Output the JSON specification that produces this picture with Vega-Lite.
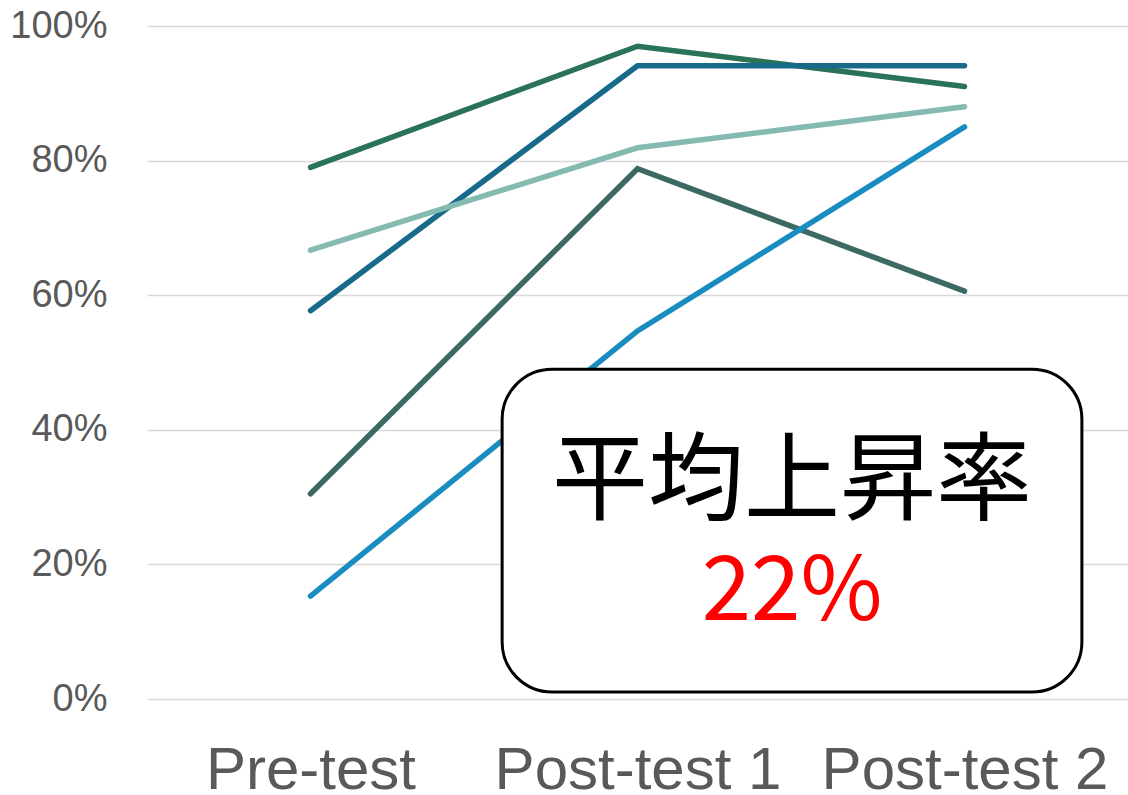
{
  "$schema": "https://vega.github.io/schema/vega-lite/v6.json",
  "width": 981,
  "height": 673,
  "autosize": {"type": "none"},
  "padding": {"left": 147, "top": 26, "right": 0, "bottom": 96},
  "background": "white",
  "config": {"view": {"stroke": null}},
  "layer": [
    {
      "data": {
        "values": [
          {"series": "S1", "test": 0, "value": 0.79},
          {"series": "S1", "test": 1, "value": 0.97},
          {"series": "S1", "test": 2, "value": 0.91},
          {"series": "S2", "test": 0, "value": 0.577},
          {"series": "S2", "test": 1, "value": 0.941},
          {"series": "S2", "test": 2, "value": 0.941},
          {"series": "S3", "test": 0, "value": 0.667},
          {"series": "S3", "test": 1, "value": 0.819},
          {"series": "S3", "test": 2, "value": 0.88},
          {"series": "S4", "test": 0, "value": 0.305},
          {"series": "S4", "test": 1, "value": 0.788},
          {"series": "S4", "test": 2, "value": 0.606},
          {"series": "S5", "test": 0, "value": 0.153},
          {"series": "S5", "test": 1, "value": 0.547},
          {"series": "S5", "test": 2, "value": 0.85}
        ]
      },
      "mark": {"type": "line", "strokeWidth": 5.5, "strokeCap": "round", "strokeJoin": "miter"},
      "encoding": {
        "x": {
          "field": "test",
          "type": "quantitative",
          "scale": {"domain": [-0.5, 2.5], "nice": false, "zero": false},
          "axis": {
            "title": null,
            "values": [0, 1, 2],
            "labelExpr": "['Pre-test','Post-test 1','Post-test 2'][datum.value]",
            "grid": false,
            "domain": false,
            "ticks": false,
            "labelFont": "Liberation Sans",
            "labelFontSize": 60,
            "labelColor": "#595959",
            "labelBaseline": "alphabetic",
            "labelPadding": 89,
            "labelLimit": 0,
            "labelFlush": false,
            "labelOverlap": false
          }
        },
        "y": {
          "field": "value",
          "type": "quantitative",
          "scale": {"domain": [0, 1], "nice": false},
          "axis": {
            "title": null,
            "values": [0, 0.2, 0.4, 0.6, 0.8, 1],
            "format": ".0%",
            "grid": true,
            "gridColor": "#D9D9D9",
            "gridWidth": 1.5,
            "domain": false,
            "ticks": false,
            "labelFont": "Liberation Sans",
            "labelFontSize": 38,
            "labelColor": "#595959",
            "labelPadding": 40,
            "labelFlush": false,
            "labelOverlap": false
          }
        },
        "color": {
          "field": "series",
          "type": "nominal",
          "scale": {
            "domain": ["S1", "S2", "S3", "S4", "S5"],
            "range": ["#2A7358", "#176A8A", "#85BAB1", "#3C6964", "#1A8DC0"]
          },
          "legend": null
        }
      }
    },
    {
      "data": {"values": [{"x1": 0.586, "x2": 2.359, "y1": 0.0104, "y2": 0.49}]},
      "mark": {"type": "rect", "fill": "white", "stroke": "black", "strokeWidth": 3, "cornerRadius": 50},
      "encoding": {
        "x": {"field": "x1", "type": "quantitative"},
        "x2": {"field": "x2"},
        "y": {"field": "y1", "type": "quantitative"},
        "y2": {"field": "y2"}
      }
    },
    {
      "data": {"values": [{"label": "平均上昇率", "x": 1.4725, "y": 0.321}]},
      "mark": {"type": "text", "font": "Noto Sans CJK JP", "fontSize": 96, "color": "black", "align": "center", "baseline": "middle"},
      "encoding": {
        "text": {"field": "label"},
        "x": {"field": "x", "type": "quantitative"},
        "y": {"field": "y", "type": "quantitative"}
      }
    },
    {
      "data": {"values": [{"label": "22%", "x": 1.4725, "y": 0.157}]},
      "mark": {"type": "text", "font": "Noto Sans CJK JP", "fontSize": 89, "color": "#FF0000", "align": "center", "baseline": "middle"},
      "encoding": {
        "text": {"field": "label"},
        "x": {"field": "x", "type": "quantitative"},
        "y": {"field": "y", "type": "quantitative"}
      }
    }
  ]
}
